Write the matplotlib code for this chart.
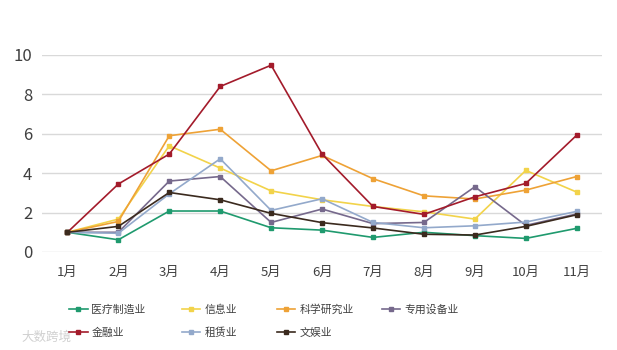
import matplotlib
matplotlib.use("Agg")
import matplotlib.pyplot as plt

plt.rcParams['font.family'] = ['Noto Sans CJK SC', 'DejaVu Sans']

months = ["1月", "2月", "3月", "4月", "5月", "6月", "7月", "8月", "9月", "10月", "11月"]

medical = [1.0, 0.62, 2.08, 2.08, 1.23, 1.11, 0.74, 1.0, 0.83, 0.69, 1.2]
info = [1.0, 1.67, 5.39, 4.26, 3.1, 2.65, 2.31, 2.04, 1.67, 4.14, 3.04]
science = [1.0, 1.55, 5.9, 6.23, 4.12, 4.9, 3.72, 2.85, 2.69, 3.14, 3.83]
equipment = [1.0, 1.0, 3.6, 3.83, 1.5, 2.18, 1.44, 1.5, 3.31, 1.35, 1.93]
finance = [1.0, 3.45, 4.97, 8.4, 9.48, 4.97, 2.31, 1.91, 2.8, 3.48, 5.93]
leasing = [1.0, 0.95, 2.95, 4.73, 2.11, 2.7, 1.5, 1.23, 1.33, 1.52, 2.06]
entertainment = [1.0, 1.3, 3.02, 2.65, 1.96, 1.49, 1.22, 0.9, 0.86, 1.3, 1.89]

series = [
    ("医疗制造业", medical, "#1f9a6e"),
    ("信息业", info, "#f2d34a"),
    ("科学研究业", science, "#eea236"),
    ("专用设备业", equipment, "#76698c"),
    ("金融业", finance, "#a31b2b"),
    ("租赁业", leasing, "#93a9cb"),
    ("文娱业", entertainment, "#3b2a1e"),
]

fig = plt.figure(figsize=(6.17, 3.5), dpi=100)
ax = fig.add_axes([0.068, 0.28, 0.908, 0.563])

x = list(range(len(months)))
handles = {}
for name, vals, color in series:
    h, = ax.plot(x, vals, color=color, lw=1.2, marker='s', ms=2.2, label=name)
    handles[name] = h

ax.set_xlim(-0.5, len(months) - 0.5)
ax.set_ylim(0, 10)
ax.set_yticks([0, 2, 4, 6, 8, 10])
ax.set_xticks(x)
ax.set_xticklabels(months)
ax.tick_params(axis='y', labelsize=12, colors='#404040', length=0, pad=7)
ax.tick_params(axis='x', labelsize=9.5, colors='#404040', length=0, pad=10)
ax.grid(axis='y', color='#d9d9d9', lw=1)
ax.set_axisbelow(True)
for s in ax.spines.values():
    s.set_visible(False)

columns = [["医疗制造业", "金融业"], ["信息业", "租赁业"], ["科学研究业", "文娱业"], ["专用设备业"]]
col_x = [0.112, 0.295, 0.449, 0.619]
for names, cx in zip(columns, col_x):
    fig.legend([handles[n] for n in names], names, loc='upper left',
               bbox_to_anchor=(cx, 0.13), frameon=False, fontsize=7.8,
               handlelength=1.7, handletextpad=0.35, labelspacing=1.15,
               borderpad=0, borderaxespad=0, labelcolor='#404040')

fig.text(0.035, 0.025, "大数跨境", fontsize=9, color='#d0d0d0')

fig.savefig("out.png", dpi=100, facecolor='white')
